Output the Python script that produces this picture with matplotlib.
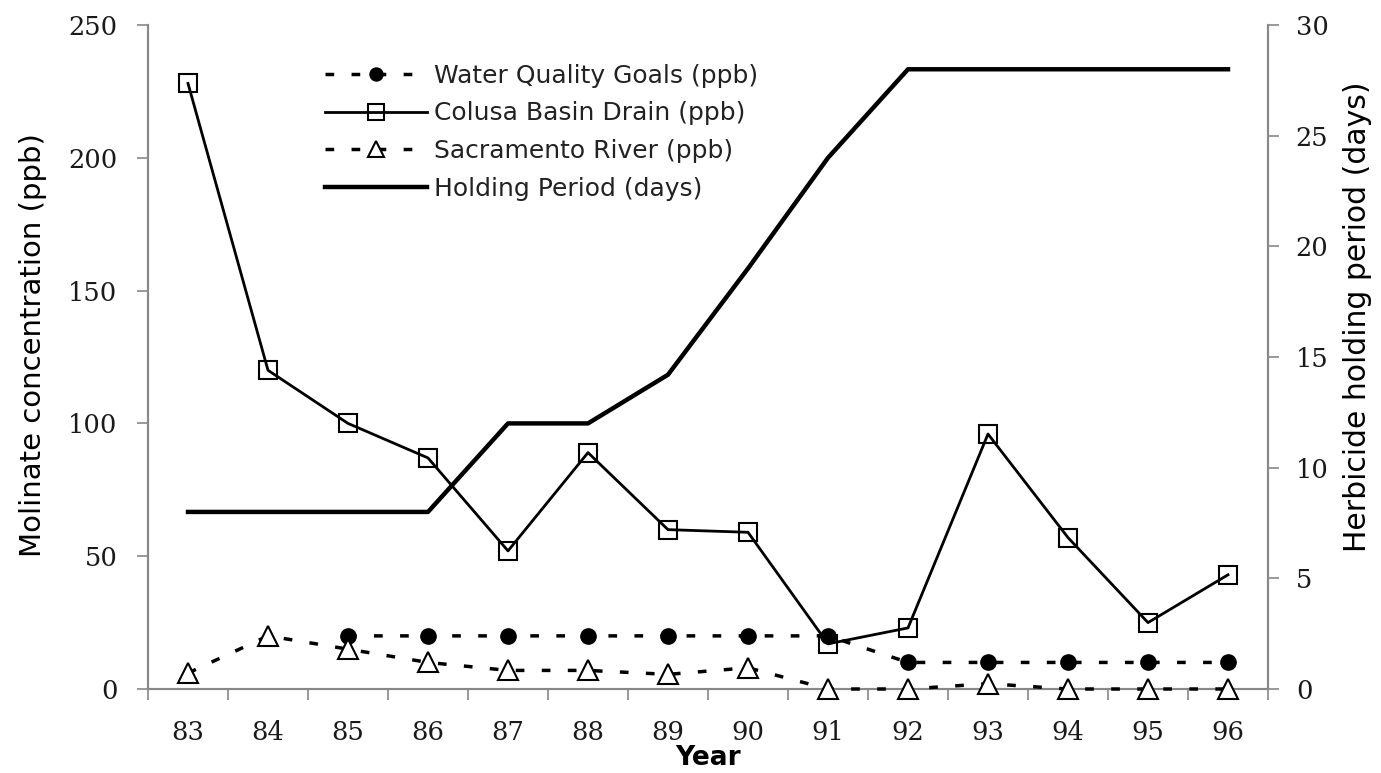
import matplotlib
matplotlib.use("Agg")
import matplotlib.pyplot as plt

years = ["83", "84", "85", "86", "87", "88", "89", "90", "91", "92", "93", "94", "95", "96"]
wq_goals = [None, None, 20, 20, 20, 20, 20, 20, 20, 10, 10, 10, 10, 10]
colusa = [228, 120, 100, 87, 52, 89, 60, 59, 17, 23, 96, 57, 25, 43]
sacramento = [6, 20, 15, 10, 7, 7, 5.5, 8, 0, 0, 2, 0, 0, 0]
holding = [8, 8, 8, 8, 12, 12, 14.2, 19, 24, 28, 28, 28, 28, 28]

x = list(range(len(years)))

fig = plt.figure(figsize=(13.81, 7.73), dpi=100)
ax = fig.add_axes([148/1381, 1-689/773, (1268-148)/1381, (689-25)/773])
ax2 = ax.twinx()
ax.set_zorder(ax2.get_zorder() + 1)
ax.patch.set_visible(False)

wx = [xi for xi, v in zip(x, wq_goals) if v is not None]
wv = [v for v in wq_goals if v is not None]

l1, = ax.plot(wx, wv, color="black", linestyle=(0, (2.5, 5)), linewidth=2.5,
              marker="o", markersize=11, markerfacecolor="black",
              markeredgecolor="black", label="Water Quality Goals (ppb)",
              zorder=3, clip_on=False)
l2, = ax.plot(x, colusa, color="black", linestyle="-", linewidth=2,
              marker="s", markersize=13, markerfacecolor="none",
              markeredgecolor="black", markeredgewidth=1.5,
              label="Colusa Basin Drain (ppb)", zorder=4, clip_on=False)
l3, = ax.plot(x, sacramento, color="black", linestyle=(0, (2.5, 5)), linewidth=2.5,
              marker="^", markersize=14, markerfacecolor="white",
              markeredgecolor="black", markeredgewidth=1.5,
              label="Sacramento River (ppb)", zorder=3, clip_on=False)
l4, = ax2.plot(x, holding, color="black", linestyle="-", linewidth=3.2,
               label="Holding Period (days)", zorder=2)

ax.set_xlim(-0.5, len(years) - 0.5)
ax.set_ylim(0, 250)
ax2.set_ylim(0, 30)

ax.set_xticks([i - 0.5 for i in range(len(years) + 1)])
ax.set_xticklabels([])
ax.set_xticks(x, minor=True)
ax.set_xticklabels(years, minor=True)
ax.tick_params(axis="x", which="major", length=8, direction="out", color="#888888", width=1.2)
ax.tick_params(axis="x", which="minor", length=0, pad=22)

ax.set_yticks([0, 50, 100, 150, 200, 250])
ax2.set_yticks([0, 5, 10, 15, 20, 25, 30])
ax.tick_params(axis="y", length=8, direction="out", color="#888888", width=1.2, pad=14)
ax2.tick_params(axis="y", length=8, direction="out", color="#888888", width=1.2, pad=12)

for lab in ax.get_yticklabels() + ax2.get_yticklabels() + ax.get_xticklabels(minor=True):
    lab.set_fontfamily("DejaVu Serif")
    lab.set_fontsize(18.5)
    lab.set_color("#1a1a1a")

for a in (ax, ax2):
    a.spines["top"].set_visible(False)
    for s in ("left", "right", "bottom"):
        a.spines[s].set_color("#888888")
        a.spines[s].set_linewidth(1.5)

ax.set_ylabel("Molinate concentration (ppb)", fontsize=21, family=["DejaVu Sans"])
ax.yaxis.set_label_coords(-0.090, 0.518)
ax2.set_ylabel("Herbicide holding period (days)", fontsize=21.5, family=["DejaVu Sans"])
ax2.yaxis.set_label_coords(1.067, 0.56)
ax.set_xlabel("Year", fontsize=19, fontweight="bold",
              family=["DejaVu Sans"], labelpad=0)

leg = ax.legend(handles=[l1, l2, l3, l4], loc="upper left",
                bbox_to_anchor=(0.158, 0.942), frameon=False, borderpad=0,
                borderaxespad=0, handlelength=4.1, handletextpad=0.25,
                labelspacing=0.55, markerscale=0.85,
                prop={"family": "DejaVu Sans", "size": 18})
for t in leg.get_texts():
    t.set_color("#222222")

fig.savefig("out.png", dpi=100)
